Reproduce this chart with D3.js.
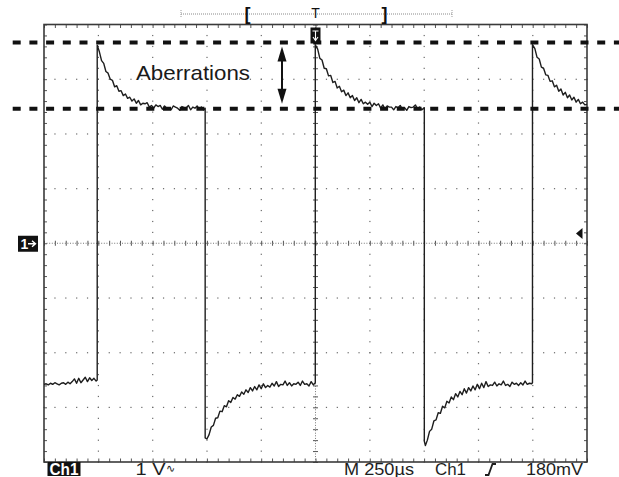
<!DOCTYPE html>
<html><head><meta charset="utf-8">
<script src="https://cdn.jsdelivr.net/npm/d3@7"></script>
<style>body{margin:0;background:#fff}svg{display:block}</style>
</head><body><svg id="c" width="619" height="477"></svg>
<script>
// ---- data: [time (µs), volts] ----
const lowRun1 = [[0,-2.58],[10,-2.57],[20,-2.59],[30,-2.56],[40,-2.58],[50,-2.55],[60,-2.57],[70,-2.59],[80,-2.56],[90,-2.55],[100,-2.58],[110,-2.54],[120,-2.57],[130,-2.53],[140,-2.48],[150,-2.56],[160,-2.47],[170,-2.55],[180,-2.50],[190,-2.45],[200,-2.53],[210,-2.46],[220,-2.51],[230,-2.47],[240,-2.52],[245,-2.50]];
const highRun1 = [[245,3.62],[255,3.50],[265,3.34],[275,3.29],[285,3.14],[295,3.11],[305,3.00],[315,2.98],[325,2.86],[335,2.88],[345,2.78],[355,2.79],[365,2.70],[375,2.73],[385,2.65],[395,2.67],[405,2.60],[415,2.64],[425,2.56],[435,2.61],[445,2.53],[455,2.56],[465,2.55],[475,2.57],[485,2.49],[495,2.52],[505,2.47],[515,2.53],[525,2.50],[535,2.52],[545,2.45],[555,2.51],[565,2.47],[575,2.48],[585,2.44],[595,2.51],[605,2.49],[615,2.47],[625,2.43],[635,2.50],[645,2.48],[655,2.48],[665,2.52],[675,2.44],[685,2.49],[695,2.47],[705,2.51],[715,2.45],[725,2.49],[735,2.44],[742,2.47]];
const lowRun2 = [[742,-3.56],[750,-3.58],[760,-3.50],[770,-3.36],[780,-3.33],[790,-3.20],[800,-3.19],[810,-3.07],[820,-3.08],[830,-2.97],[840,-2.99],[850,-2.88],[860,-2.91],[870,-2.82],[880,-2.85],[890,-2.77],[900,-2.80],[910,-2.72],[920,-2.76],[930,-2.68],[940,-2.73],[950,-2.64],[960,-2.70],[970,-2.62],[980,-2.68],[990,-2.59],[1000,-2.66],[1010,-2.57],[1020,-2.64],[1030,-2.60],[1040,-2.63],[1050,-2.56],[1060,-2.61],[1070,-2.53],[1080,-2.62],[1090,-2.58],[1100,-2.59],[1110,-2.52],[1120,-2.60],[1130,-2.55],[1140,-2.61],[1150,-2.57],[1160,-2.58],[1170,-2.54],[1180,-2.60],[1190,-2.52],[1200,-2.58],[1210,-2.57],[1220,-2.61],[1230,-2.53],[1240,-2.59],[1249,-2.55]];
const highRun2 = [[1249,3.63],[1260,3.55],[1270,3.38],[1280,3.35],[1290,3.20],[1300,3.19],[1310,3.06],[1320,3.07],[1330,2.94],[1340,2.96],[1350,2.84],[1360,2.87],[1370,2.77],[1380,2.80],[1390,2.70],[1400,2.75],[1410,2.66],[1420,2.70],[1430,2.61],[1440,2.66],[1450,2.57],[1460,2.63],[1470,2.55],[1480,2.58],[1490,2.54],[1500,2.58],[1510,2.50],[1520,2.56],[1530,2.52],[1540,2.55],[1550,2.47],[1560,2.53],[1570,2.45],[1580,2.51],[1590,2.49],[1600,2.49],[1610,2.44],[1620,2.50],[1630,2.48],[1640,2.52],[1650,2.45],[1660,2.48],[1670,2.43],[1680,2.50],[1690,2.48],[1700,2.49],[1710,2.53],[1720,2.45],[1730,2.49],[1740,2.44],[1751,2.48]];
const lowRun3 = [[1751,-3.62],[1756,-3.70],[1765,-3.60],[1775,-3.44],[1785,-3.40],[1795,-3.25],[1805,-3.23],[1815,-3.10],[1825,-3.11],[1835,-2.98],[1845,-3.01],[1855,-2.89],[1865,-2.92],[1875,-2.81],[1885,-2.86],[1895,-2.75],[1905,-2.81],[1915,-2.71],[1925,-2.77],[1935,-2.66],[1945,-2.74],[1955,-2.64],[1965,-2.70],[1975,-2.61],[1985,-2.68],[1995,-2.58],[2005,-2.66],[2015,-2.56],[2025,-2.64],[2035,-2.53],[2045,-2.62],[2055,-2.59],[2065,-2.60],[2075,-2.54],[2085,-2.61],[2095,-2.57],[2105,-2.59],[2115,-2.52],[2125,-2.60],[2135,-2.58],[2145,-2.62],[2155,-2.54],[2165,-2.58],[2175,-2.56],[2185,-2.60],[2195,-2.55],[2205,-2.59],[2215,-2.52],[2225,-2.58],[2235,-2.56],[2245,-2.57],[2249,-2.55]];
const highRun3 = [[2249,3.63],[2260,3.56],[2270,3.40],[2280,3.37],[2290,3.22],[2300,3.20],[2310,3.08],[2320,3.07],[2330,2.96],[2340,2.97],[2350,2.86],[2360,2.89],[2370,2.78],[2380,2.82],[2390,2.71],[2400,2.76],[2410,2.66],[2420,2.71],[2430,2.62],[2440,2.67],[2450,2.58],[2460,2.63],[2470,2.55],[2480,2.58],[2490,2.53],[2500,2.54]];

const markerLevels = [3.67, 2.46];      // dashed "aberrations" levels (V)
const timeDomain = [0, 2500];           // 250 µs/div x 10 div
const voltDomain = [-4, 4];             // 1 V/div x 8 div
const triggerTime = 1250;
const triggerLevel = 0.18;
const annotation = "Aberrations";
const statusLabels = ["Ch1", "1 V", "M 250µs", "Ch1", "180mV"];
const windowLabels = ["[", "T", "]"];

// ---- layout ----
const X0 = 44, X1 = 587, Y0 = 24.5, Y1 = 462;
const x = d3.scaleLinear().domain(timeDomain).range([X0, X1]);
const y = d3.scaleLinear().domain(voltDomain).range([Y1, Y0]);
const svg = d3.select("#c");
const ink = "#1e1e1e", gridc = "#6a6a6a";

const minorT = d3.range(0, 2501, 50);
const minorV = d3.range(-40, 41, 2).map(d => d / 10);
const majorT = d3.range(250, 2500, 250).filter(t => t !== triggerTime);
const majorV = d3.range(-3, 4, 1).filter(v => v !== 0);

// grid dots
const gDots = svg.append("g").attr("fill", gridc);
majorT.forEach(t => minorV.forEach(v => gDots.append("rect").attr("x", x(t) - 0.5).attr("y", y(v) - 0.5).attr("width", 1.2).attr("height", 1.2)));
majorV.forEach(v => minorT.forEach(t => gDots.append("rect").attr("x", x(t) - 0.5).attr("y", y(v) - 0.5).attr("width", 1.2).attr("height", 1.2)));

// centre crosshair
svg.append("line").attr("x1", X0).attr("x2", X1).attr("y1", y(0)).attr("y2", y(0))
  .attr("stroke", "#777").attr("stroke-width", 1).attr("stroke-dasharray", "1,1.6");
svg.append("line").attr("x1", x(triggerTime)).attr("x2", x(triggerTime)).attr("y1", Y0).attr("y2", Y1)
  .attr("stroke", "#777").attr("stroke-width", 1).attr("stroke-dasharray", "1,1.6");

function styleAxis(g) {
  g.select(".domain").remove();
  g.selectAll("line").attr("stroke", "#555").attr("stroke-width", 1);
}
const fmt = () => "";
svg.append("g").attr("transform", `translate(0,${y(0)})`).call(d3.axisBottom(x).tickValues(minorT).tickSize(2.5).tickFormat(fmt)).call(styleAxis);
svg.append("g").attr("transform", `translate(0,${y(0)})`).call(d3.axisTop(x).tickValues(minorT).tickSize(2.5).tickFormat(fmt)).call(styleAxis);
svg.append("g").attr("transform", `translate(${x(triggerTime)},0)`).call(d3.axisLeft(y).tickValues(minorV).tickSize(2.5).tickFormat(fmt)).call(styleAxis);
svg.append("g").attr("transform", `translate(${x(triggerTime)},0)`).call(d3.axisRight(y).tickValues(minorV).tickSize(2.5).tickFormat(fmt)).call(styleAxis);
// frame ticks
svg.append("g").attr("transform", `translate(0,${Y0})`).call(d3.axisBottom(x).tickValues(minorT).tickSize(3.5).tickFormat(fmt)).call(styleAxis);
svg.append("g").attr("transform", `translate(0,${Y1})`).call(d3.axisTop(x).tickValues(minorT).tickSize(3.5).tickFormat(fmt)).call(styleAxis);
svg.append("g").attr("transform", `translate(${X0},0)`).call(d3.axisRight(y).tickValues(minorV).tickSize(3).tickFormat(fmt)).call(styleAxis);
svg.append("g").attr("transform", `translate(${X1},0)`).call(d3.axisLeft(y).tickValues(minorV).tickSize(3).tickFormat(fmt)).call(styleAxis);

// frame
svg.append("rect").attr("x", X0).attr("y", Y0).attr("width", X1 - X0).attr("height", Y1 - Y0)
  .attr("fill", "none").attr("stroke", "#3a3a3a").attr("stroke-width", 1.6);

// trace
const trace = [].concat(lowRun1, highRun1, lowRun2, highRun2, lowRun3, highRun3);
svg.append("path").datum(trace)
  .attr("d", d3.line().x(d => x(d[0])).y(d => y(d[1])))
  .attr("fill", "none").attr("stroke", ink).attr("stroke-width", 1.4).attr("stroke-linejoin", "round");

// dashed aberration levels
markerLevels.forEach(v => svg.append("line").attr("x1", 12.7).attr("x2", 619).attr("y1", y(v)).attr("y2", y(v))
  .attr("stroke", "#111").attr("stroke-width", 4).attr("stroke-dasharray", "8,8.7"));

// double arrow
const ax = 282, aTop = y(markerLevels[0]) + 4, aBot = y(markerLevels[1]) - 5;
svg.append("line").attr("x1", ax).attr("x2", ax).attr("y1", aTop + 10).attr("y2", aBot - 10).attr("stroke", "#111").attr("stroke-width", 2);
svg.append("path").attr("d", `M${ax},${aTop}L${ax - 4.5},${aTop + 15}L${ax + 4.5},${aTop + 15}Z`).attr("fill", "#111");
svg.append("path").attr("d", `M${ax},${aBot}L${ax - 4.5},${aBot - 15}L${ax + 4.5},${aBot - 15}Z`).attr("fill", "#111");

svg.append("text").attr("x", 136).attr("y", 80).attr("font-family", "Liberation Sans, Arial, sans-serif")
  .attr("font-size", 21).attr("fill", "#1a1a1a").attr("textLength", 114).attr("lengthAdjust", "spacingAndGlyphs").text(annotation);

// trigger position marker (top)
const tx = x(triggerTime);
svg.append("rect").attr("x", tx - 5).attr("y", 27.5).attr("width", 10).attr("height", 16).attr("fill", "#111");
svg.append("path").attr("d", `M${tx - 3},${31}H${tx + 3}M${tx},${31}V${40}M${tx - 2.5},${37}L${tx},${40.5}L${tx + 2.5},${37}`)
  .attr("stroke", "#fff").attr("stroke-width", 1.1).attr("fill", "none");

// channel ground marker (left)
svg.append("rect").attr("x", 18).attr("y", y(0) - 7.5).attr("width", 20).attr("height", 16).attr("fill", "#111");
svg.append("text").attr("x", 20.5).attr("y", y(0) + 6).attr("font-family", "Liberation Sans, Arial, sans-serif")
  .attr("font-size", 14).attr("font-weight", "bold").attr("fill", "#fff").text("1");
svg.append("path").attr("d", `M28,${y(0) + 0.5}H35M32,${y(0) - 2.5}L35.5,${y(0) + 0.5}L32,${y(0) + 3.5}`)
  .attr("stroke", "#fff").attr("stroke-width", 1.4).attr("fill", "none");

// trigger level marker (right)
const ty = y(triggerLevel);
svg.append("path").attr("d", `M576,${ty}L582.5,${ty - 5.5}L582.5,${ty + 5.5}Z`).attr("fill", "#111");

// top window bar
svg.append("line").attr("x1", 181).attr("x2", 452).attr("y1", 14).attr("y2", 14).attr("stroke", "#8a8a8a").attr("stroke-width", 1).attr("stroke-dasharray", "1,1");
[181, 452].forEach(px => svg.append("line").attr("x1", px).attr("x2", px).attr("y1", 10).attr("y2", 18).attr("stroke", "#999").attr("stroke-width", 1).attr("stroke-dasharray", "1,1"));
const tf = "Liberation Sans, Arial, sans-serif";
svg.append("text").attr("x", 247.5).attr("y", 20).attr("text-anchor", "middle").attr("font-family", tf).attr("font-size", 18).attr("font-weight", "bold").attr("fill", "#111").text(windowLabels[0]);
svg.append("text").attr("x", tx).attr("y", 18).attr("text-anchor", "middle").attr("font-family", tf).attr("font-size", 14).attr("fill", "#111").text(windowLabels[1]);
svg.append("text").attr("x", 384.5).attr("y", 20).attr("text-anchor", "middle").attr("font-family", tf).attr("font-size", 18).attr("font-weight", "bold").attr("fill", "#111").text(windowLabels[2]);

// status line
svg.append("rect").attr("x", 47.5).attr("y", 462).attr("width", 33).attr("height", 14).attr("fill", "#111");
function status(txt, px, len, opts = {}) {
  return svg.append("text").attr("x", px).attr("y", 475).attr("font-family", tf).attr("font-size", 16)
    .attr("fill", opts.fill || ink).attr("font-weight", opts.bold ? "bold" : "normal")
    .attr("textLength", len).attr("lengthAdjust", "spacingAndGlyphs").text(txt);
}
status(statusLabels[0], 49.5, 29, {fill: "#fff", bold: true});
status(statusLabels[1], 135.5, 30);
svg.append("text").attr("x", 166).attr("y", 472).attr("font-family", "DejaVu Sans, sans-serif").attr("font-size", 11).attr("fill", ink).text("∿");
status(statusLabels[2], 344, 70);
status(statusLabels[3], 435, 31);
svg.append("path").attr("d", "M485,475H488.5L492.5,464H496").attr("stroke", ink).attr("stroke-width", 1.8).attr("fill", "none");
status(statusLabels[4], 526, 57);
</script></body></html>
